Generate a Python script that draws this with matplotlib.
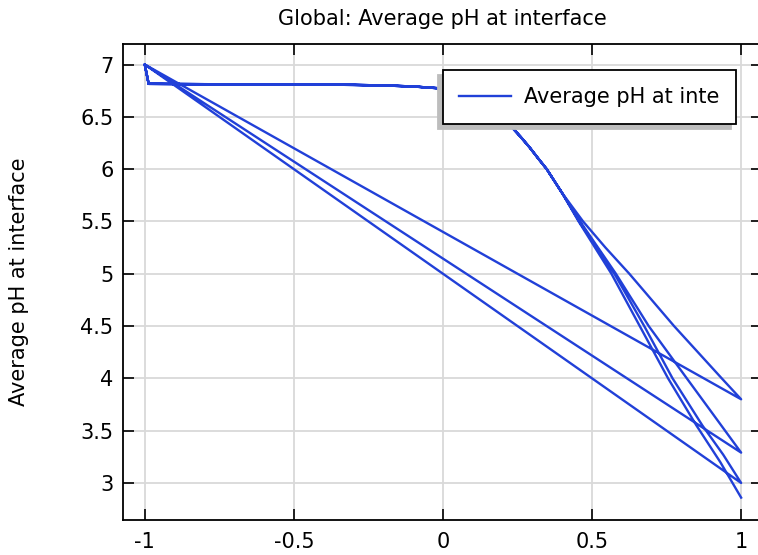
import numpy as np
import matplotlib
matplotlib.use('Agg')
import matplotlib.pyplot as plt

# common part of every forward sweep (x = -1 .. 0.40)
x_head = [-1.0, -0.987, -0.8, -0.5, -0.3, -0.2, -0.1, 0.0, 0.08, 0.15, 0.19, 0.228,
          0.26, 0.29, 0.32, 0.348, 0.40]
ph_head = [7.0, 6.815, 6.812, 6.81, 6.805, 6.80, 6.79, 6.77, 6.72, 6.62, 6.53, 6.41,
           6.31, 6.21, 6.1, 6.0, 5.77]

# the four sweep tails, in the order they were recorded
tails_x = [
    [0.47, 0.545, 0.625, 0.775, 0.935, 1.0],
    [0.46, 0.58, 0.69, 0.805, 0.9, 1.0],
    [0.457, 0.575, 0.675, 0.77, 0.87, 0.94, 1.0],
    [0.455, 0.565, 0.66, 0.755, 0.85, 0.93, 1.0],
]
tails_ph = [
    [5.5, 5.25, 5.0, 4.5, 4.0, 3.8],
    [5.5, 5.0, 4.5, 4.05, 3.68, 3.29],
    [5.5, 5.0, 4.5, 4.0, 3.55, 3.27, 3.0],
    [5.5, 5.0, 4.5, 4.0, 3.55, 3.2, 2.86],
]

x_all, ph_all = [], []
for tx, tp in zip(tails_x, tails_ph):
    x_all += x_head + tx
    ph_all += ph_head + tp

fig = plt.figure(figsize=(7.58, 5.55), dpi=100)
ax = fig.add_axes([123.3 / 758, 1 - 520 / 555, (762 - 123.3) / 758, (520 - 44) / 555])

ax.plot(x_all, ph_all, color='#2140d8', linewidth=1.7, label='Average pH at inte')

ax.set_xlim(-1.072, 1.07)
ax.set_ylim(2.646, 7.196)
ax.set_xticks([-1, -0.5, 0, 0.5, 1])
ax.set_xticklabels(['-1', '-0.5', '0', '0.5', '1'])
ax.set_yticks([3, 3.5, 4, 4.5, 5, 5.5, 6, 6.5, 7])
ax.set_yticklabels(['3', '3.5', '4', '4.5', '5', '5.5', '6', '6.5', '7'])
ax.tick_params(direction='in', length=8, width=1.2, top=True, right=True,
               labelsize=15, colors='black')
ax.tick_params(axis='y', pad=7)
ax.tick_params(axis='x', pad=9)
ax.grid(True, color='#d9d9d9', linewidth=1.3)
ax.set_axisbelow(True)
for s in ax.spines.values():
    s.set_linewidth(1.3)

ax.set_title('Global: Average pH at interface', fontsize=15, pad=14)
ax.set_ylabel('Average pH at interface', fontsize=15, labelpad=37)

leg = ax.legend(loc='upper right', bbox_to_anchor=(0.959, 0.945), fontsize=15,
                fancybox=False, edgecolor='black', framealpha=1,
                handlelength=2.5, handletextpad=0.6, borderpad=0.8,
                borderaxespad=0,
                shadow={'ox': -3.6, 'oy': -3.6, 'facecolor': '#bdbdbd',
                        'edgecolor': '#bdbdbd', 'alpha': 1})
leg.get_frame().set_linewidth(1.3)

fig.savefig('out.png', dpi=100)
